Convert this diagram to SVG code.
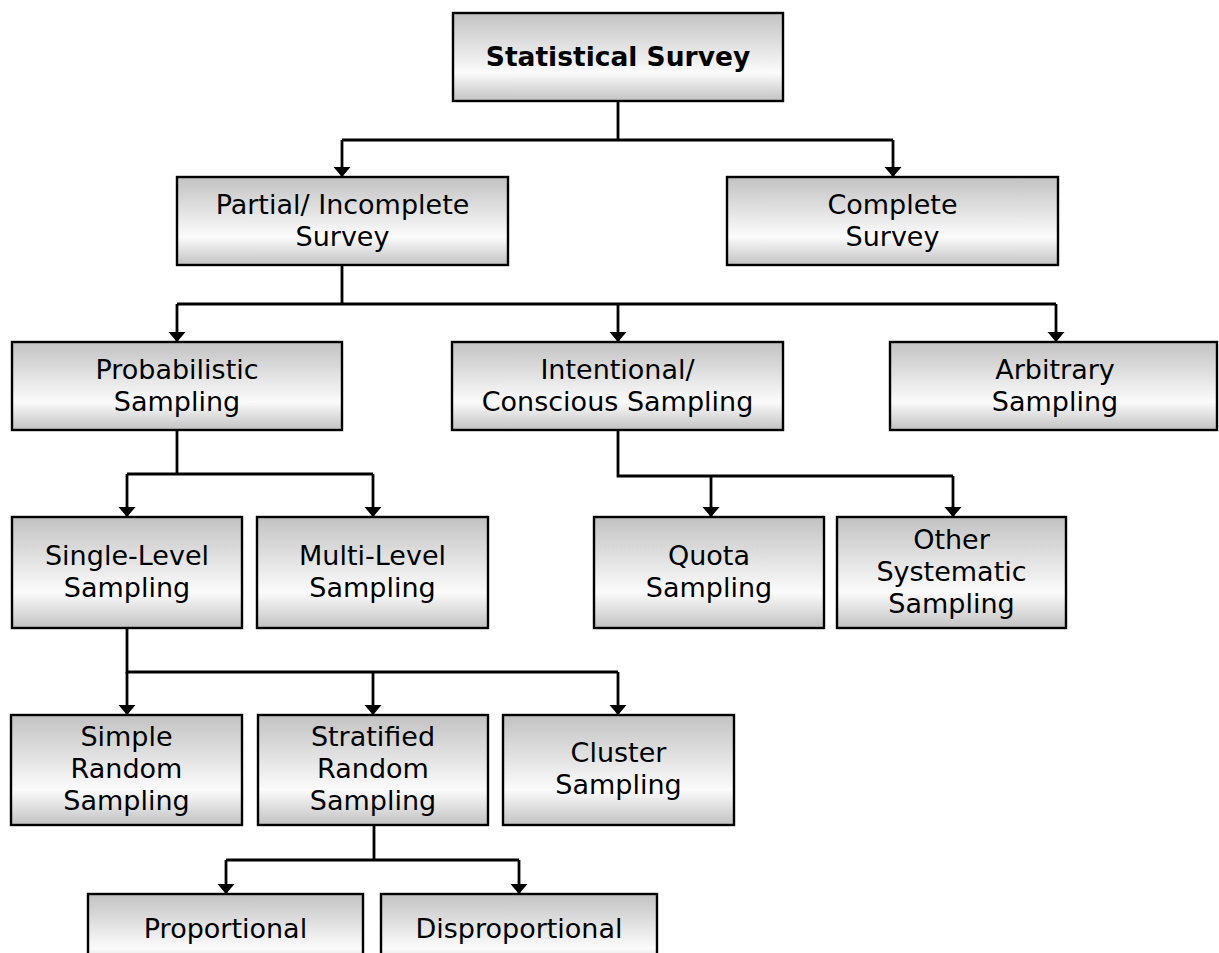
<svg xmlns="http://www.w3.org/2000/svg" width="1219" height="953" viewBox="0 0 1219 953">
  <defs>
    <linearGradient id="boxFill" x1="0" y1="0" x2="0" y2="1">
      <stop offset="0" stop-color="#c2c2c2"/>
      <stop offset="0.68" stop-color="#fbfbfb"/>
      <stop offset="1" stop-color="#c2c2c2"/>
    </linearGradient>
    <marker id="arrow" markerUnits="userSpaceOnUse" markerWidth="12" markerHeight="18" refX="10" refY="8.5" orient="auto">
      <path d="M0,0 L10,8.5 L0,17 Z" fill="#000"/>
    </marker>
  </defs>
  <style>
    .box { fill: url(#boxFill); stroke: #000; stroke-width: 2.4; }
    .label { font-family: "DejaVu Sans", Verdana, sans-serif; font-size: 27px; fill: #000; text-anchor: middle; }
    .bold { font-weight: bold; font-size: 26.5px; }
    .conn { fill: none; stroke: #000; stroke-width: 2.8; }
    .arr { fill: none; stroke: #000; stroke-width: 2.8; marker-end: url(#arrow); }
  </style>

  <rect width="1219" height="953" fill="#fff"/>

  <!-- connectors -->
  <g id="connectors">
    <path class="conn" d="M618,101 V140 M342,140 H893"/>
    <path class="arr" d="M342,140 V177"/>
    <path class="arr" d="M893,140 V177"/>

    <path class="conn" d="M342,265 V304 M177,304 H1056"/>
    <path class="arr" d="M177,304 V342"/>
    <path class="arr" d="M618,304 V342"/>
    <path class="arr" d="M1056,304 V342"/>

    <path class="conn" d="M177,430 V474 M127,474 H373"/>
    <path class="arr" d="M127,474 V517"/>
    <path class="arr" d="M373,474 V517"/>

    <path class="conn" d="M618,430 V476 H953"/>
    <path class="arr" d="M711,476 V517"/>
    <path class="arr" d="M953,476 V517"/>

    <path class="conn" d="M127,628 V672 H618"/>
    <path class="arr" d="M127,672 V715"/>
    <path class="arr" d="M373,672 V715"/>
    <path class="arr" d="M618,672 V715"/>

    <path class="conn" d="M374,825 V860 M226,860 H519"/>
    <path class="arr" d="M226,860 V894"/>
    <path class="arr" d="M519,860 V894"/>
  </g>

  <g id="statistical-survey">
    <rect class="box" x="453" y="13" width="330" height="88"/>
    <text class="label bold" x="618" y="66">Statistical Survey</text>
  </g>

  <g id="partial-survey">
    <rect class="box" x="177" y="177" width="331" height="88"/>
    <text class="label" x="342.5" y="214">Partial/ Incomplete</text>
    <text class="label" x="342.5" y="246">Survey</text>
  </g>

  <g id="complete-survey">
    <rect class="box" x="727" y="177" width="331" height="88"/>
    <text class="label" x="892.5" y="214">Complete</text>
    <text class="label" x="892.5" y="246">Survey</text>
  </g>

  <g id="probabilistic-sampling">
    <rect class="box" x="12" y="342" width="330" height="88"/>
    <text class="label" x="177" y="379">Probabilistic</text>
    <text class="label" x="177" y="411">Sampling</text>
  </g>

  <g id="intentional-sampling">
    <rect class="box" x="452" y="342" width="331" height="88"/>
    <text class="label" x="617.5" y="379">Intentional/</text>
    <text class="label" x="617.5" y="411">Conscious Sampling</text>
  </g>

  <g id="arbitrary-sampling">
    <rect class="box" x="890" y="342" width="327" height="88"/>
    <text class="label" x="1055" y="379">Arbitrary</text>
    <text class="label" x="1055" y="411">Sampling</text>
  </g>

  <g id="single-level-sampling">
    <rect class="box" x="12" y="517" width="230" height="111"/>
    <text class="label" x="127" y="565">Single-Level</text>
    <text class="label" x="127" y="597">Sampling</text>
  </g>

  <g id="multi-level-sampling">
    <rect class="box" x="257" y="517" width="231" height="111"/>
    <text class="label" x="372.5" y="565">Multi-Level</text>
    <text class="label" x="372.5" y="597">Sampling</text>
  </g>

  <g id="quota-sampling">
    <rect class="box" x="594" y="517" width="230" height="111"/>
    <text class="label" x="709" y="565">Quota</text>
    <text class="label" x="709" y="597">Sampling</text>
  </g>

  <g id="other-systematic-sampling">
    <rect class="box" x="837" y="517" width="229" height="111"/>
    <text class="label" x="951.5" y="549">Other</text>
    <text class="label" x="951.5" y="581">Systematic</text>
    <text class="label" x="951.5" y="613">Sampling</text>
  </g>

  <g id="simple-random-sampling">
    <rect class="box" x="11" y="715" width="231" height="110"/>
    <text class="label" x="126.5" y="746">Simple</text>
    <text class="label" x="126.5" y="778">Random</text>
    <text class="label" x="126.5" y="810">Sampling</text>
  </g>

  <g id="stratified-random-sampling">
    <rect class="box" x="258" y="715" width="230" height="110"/>
    <text class="label" x="373" y="746">Stratified</text>
    <text class="label" x="373" y="778">Random</text>
    <text class="label" x="373" y="810">Sampling</text>
  </g>

  <g id="cluster-sampling">
    <rect class="box" x="503" y="715" width="231" height="110"/>
    <text class="label" x="618.5" y="762">Cluster</text>
    <text class="label" x="618.5" y="794">Sampling</text>
  </g>

  <g id="proportional">
    <rect class="box" x="88" y="894" width="275" height="80"/>
    <text class="label" x="225.5" y="938">Proportional</text>
  </g>

  <g id="disproportional">
    <rect class="box" x="381" y="894" width="276" height="80"/>
    <text class="label" x="519" y="938">Disproportional</text>
  </g>
</svg>
